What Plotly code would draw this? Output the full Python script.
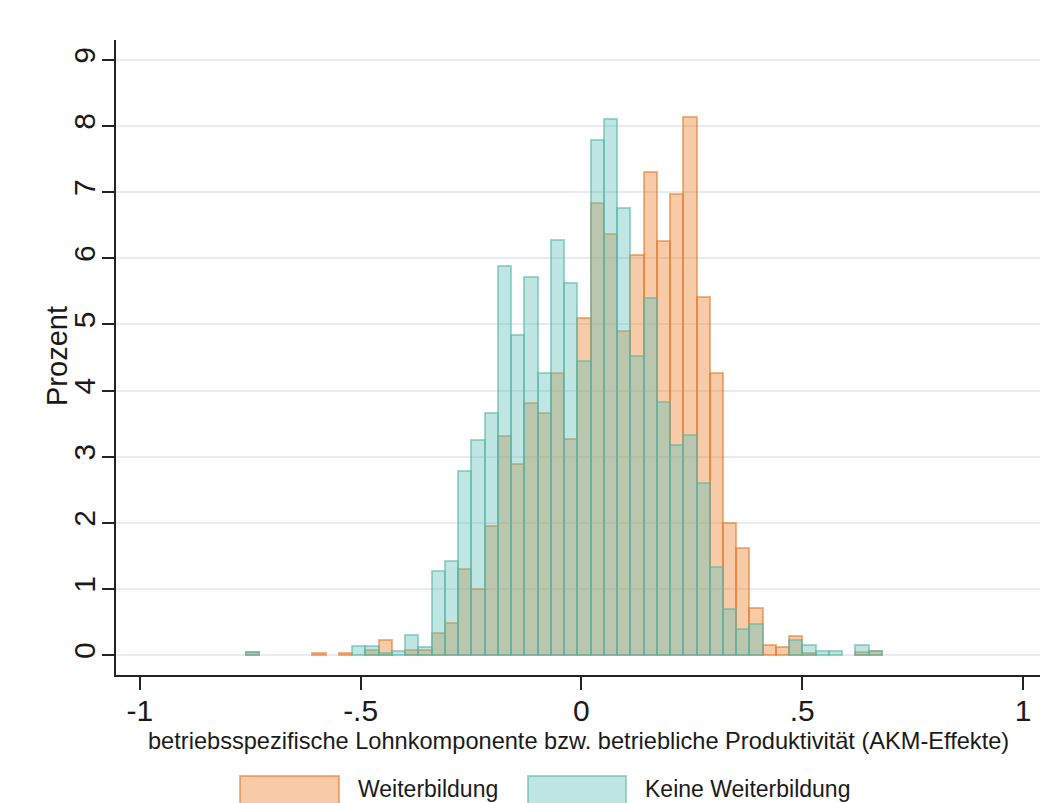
import numpy as np
import plotly.graph_objects as go

# ---- data ----
bin_start = -0.7594   # left edge of first bin
bin_width = 0.03
weiterbildung = [0.05, 0, 0, 0, 0, 0.04, 0, 0.04, 0, 0.08,
                 0.23, 0, 0.08, 0.08, 0.33, 0.48, 1.31, 1.00, 1.96, 3.32,
                 2.89, 3.81, 3.66, 4.27, 3.27, 5.10, 6.83, 6.36, 4.90, 6.05,
                 7.30, 6.26, 6.97, 8.13, 5.42, 4.27, 2.00, 1.62, 0.71, 0.16,
                 0.13, 0.29, 0.04, 0, 0, 0, 0.05, 0.06]
keine_weiterbildung = [0.05, 0, 0, 0, 0, 0, 0, 0, 0.14, 0.14,
                       0.04, 0.06, 0.31, 0.13, 1.27, 1.42, 2.78, 3.26, 3.66, 5.89,
                       4.84, 5.72, 4.27, 6.28, 5.63, 4.44, 7.79, 8.11, 6.76, 4.52,
                       5.40, 3.82, 3.17, 3.33, 2.60, 1.34, 0.70, 0.39, 0.47, 0,
                       0, 0.23, 0.15, 0.07, 0.07, 0, 0.15, 0.06]
x_tickvals = [-1, -0.5, 0, 0.5, 1]
x_ticktext = ["-1", "-.5", "0", ".5", "1"]
y_tickvals = list(range(0, 10))
series_names = ["Weiterbildung", "Keine Weiterbildung"]
x_title = "betriebsspezifische Lohnkomponente bzw. betriebliche Produktivität (AKM-Effekte)"
y_title = "Prozent"

n = len(weiterbildung)
centers = bin_start + bin_width * (np.arange(n) + 0.5)

def clean(v):
    return [val if val > 0 else None for val in v]

FONT = "Liberation Sans, Arial, sans-serif"
ORANGE_FILL = "rgba(235,125,38,0.40)"
ORANGE_LINE = "rgba(232,120,40,0.55)"
TEAL_FILL = "rgba(95,192,182,0.40)"
TEAL_LINE = "rgba(85,182,168,0.55)"

fig = go.Figure()
fig.add_trace(go.Bar(x=centers, y=clean(weiterbildung), width=bin_width,
                     name=series_names[0],
                     marker=dict(color=ORANGE_FILL, line=dict(color=ORANGE_LINE, width=2))))
fig.add_trace(go.Bar(x=centers, y=clean(keine_weiterbildung), width=bin_width,
                     name=series_names[1],
                     marker=dict(color=TEAL_FILL, line=dict(color=TEAL_LINE, width=2))))

# manual legend (large swatches as in the reference)
def px2paper_x(px):
    return (px - 116) / 924.0

def py2paper_y(py):
    return (675 - py) / 635.0

shapes = []
annotations = []
legend_items = [
    (series_names[0], 240, 339, 356, ORANGE_FILL, ORANGE_LINE),
    (series_names[1], 528, 626, 643, TEAL_FILL, TEAL_LINE),
]
for name, x0, x1, tx, fillc, linec in legend_items:
    shapes.append(dict(type="rect", xref="paper", yref="paper",
                       x0=px2paper_x(x0), x1=px2paper_x(x1),
                       y0=py2paper_y(776), y1=py2paper_y(812),
                       fillcolor=fillc, line=dict(color=linec, width=2), layer="above"))
    annotations.append(dict(text=name, xref="paper", yref="paper",
                            x=px2paper_x(tx), y=py2paper_y(789),
                            xanchor="left", yanchor="middle", showarrow=False,
                            font=dict(family=FONT, size=23, color="#1a1a1a")))

annotations.append(dict(text=x_title, xref="paper", yref="paper",
                        x=0.5, y=py2paper_y(741), xanchor="center", yanchor="middle",
                        showarrow=False, font=dict(family=FONT, size=23.6, color="#1a1a1a")))
annotations.append(dict(text=y_title, xref="paper", yref="paper",
                        x=px2paper_x(57), y=py2paper_y(356), xanchor="center", yanchor="middle",
                        textangle=-90, showarrow=False,
                        font=dict(family=FONT, size=29, color="#1a1a1a")))

fig.update_layout(
    width=1040, height=803,
    margin=dict(l=116, r=0, t=40, b=128, autoexpand=False),
    paper_bgcolor="white", plot_bgcolor="white",
    barmode="overlay", bargap=0,
    showlegend=False,
    shapes=shapes, annotations=annotations,
    font=dict(family=FONT, color="#1a1a1a"),
)
fig.update_xaxes(range=[-1.054, 1.0385], tickvals=x_tickvals, ticktext=x_ticktext,
                 automargin=False, ticklabelstandoff=-5,
                 showgrid=False, zeroline=False, showline=True, linecolor="#222222", linewidth=1.5,
                 ticks="outside", ticklen=13, tickwidth=1.5, tickcolor="#222222",
                 tickfont=dict(family=FONT, size=30, color="#1a1a1a"))
fig.update_yaxes(range=[-0.30, 9.30], tickvals=y_tickvals, tickangle=-90,
                 automargin=False, ticklabelstandoff=-5,
                 showgrid=True, gridcolor="#e6ecf1", gridwidth=1.5, zeroline=False,
                 showline=True, linecolor="#222222", linewidth=1.5,
                 ticks="outside", ticklen=12, tickwidth=1.5, tickcolor="#222222",
                 tickfont=dict(family=FONT, size=30, color="#1a1a1a"))

fig.write_html("out.html", config={"displayModeBar": False},
               post_script="document.body.style.margin='0';document.body.style.overflow='hidden';")
